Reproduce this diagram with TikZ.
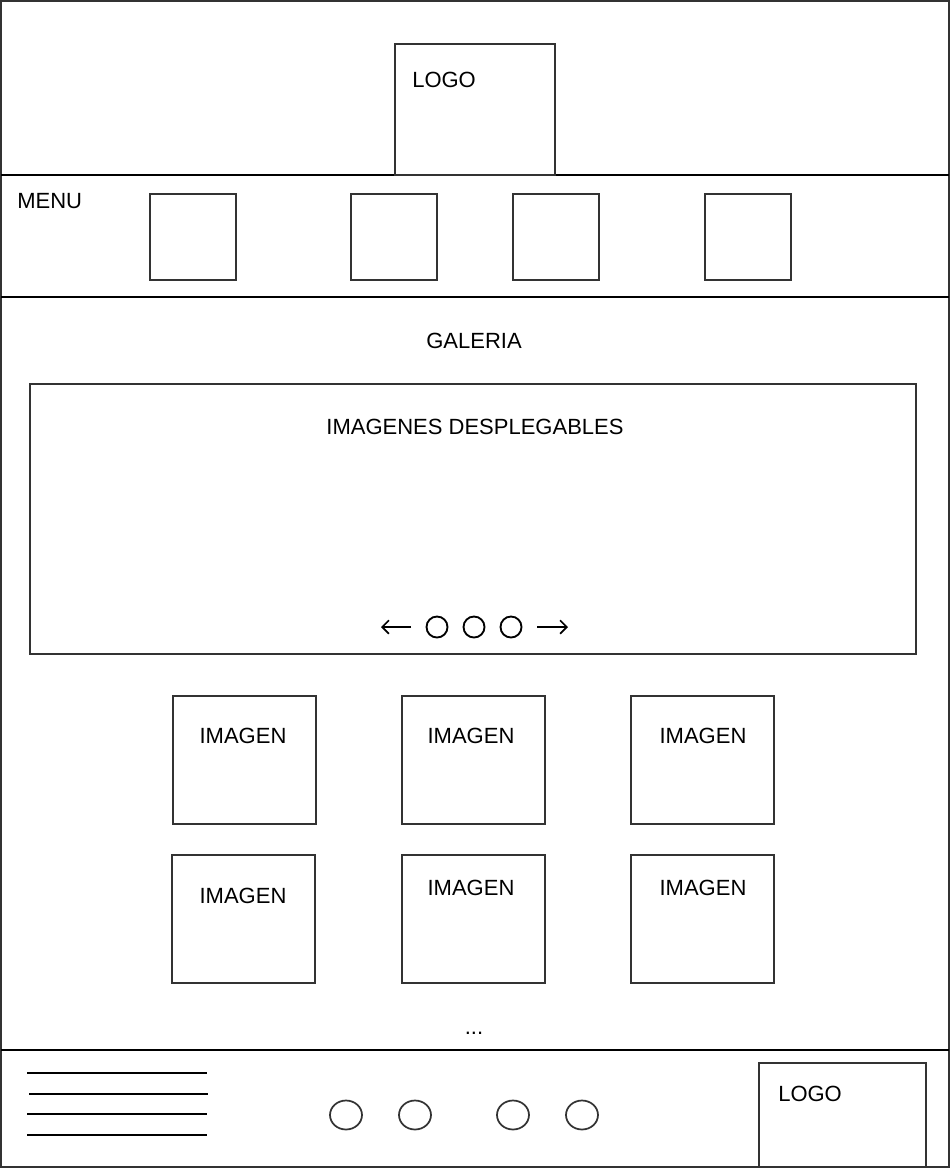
\documentclass[tikz,border=0pt]{standalone}
\usepackage{fontspec}
\setmainfont{Liberation Sans}
\usetikzlibrary{arrows.meta}
\definecolor{frm}{HTML}{333333}
\tikzset{
  box/.style={draw=frm, line width=1.5pt},
  sep/.style={draw=black, line width=1.6pt},
  lbl/.style={inner sep=0pt, font=\fontsize{16.5pt}{19pt}\selectfont},
  dot/.style={draw=black, line width=1.4pt},
  flink/.style={draw=black, line width=1.6pt},
  nav/.style={draw=black, line width=1.3pt, -{Straight Barb[length=5pt,width=10pt]}}
}
\begin{document}
\begin{tikzpicture}[x=0.75pt,y=-0.75pt]
\useasboundingbox (0,0) rectangle (950,1168);
% outer frame
\draw[draw=frm, line width=1.6pt] (1,1) rectangle (949,1167);
% separators
\coordinate (s1l) at (1,175); \coordinate (s1r) at (949,175);
\coordinate (s2l) at (1,297); \coordinate (s2r) at (949,297);
\coordinate (s3l) at (1,1050); \coordinate (s3r) at (949,1050);
\draw[sep] (s1l) -- (s1r);
\draw[sep] (s2l) -- (s2r);
\draw[sep] (s3l) -- (s3r);
% header logo
\draw[box] (395,44) rectangle (555,175);
\node[lbl, anchor=west] (logo1) at (412,80) {LOGO};
% menu
\node[lbl, anchor=west] (menu) at (17,201) {MENU};
\draw[box] (150,194) rectangle (236,280);
\draw[box] (351,194) rectangle (437,280);
\draw[box] (513,194) rectangle (599,280);
\draw[box] (705,194) rectangle (791,280);
% gallery
\node[lbl] (gal) at (474,341) {GALERIA};
\draw[box] (30,384) rectangle (916,654);
\node[lbl] (desp) at (475,427) {IMAGENES DESPLEGABLES};
\coordinate (la) at (411,627); \coordinate (lb) at (381,627);
\coordinate (ra) at (537,627); \coordinate (rb) at (568,627);
\draw[nav] (la) -- (lb);
\draw[nav] (ra) -- (rb);
\draw[dot] (437,627) circle[radius=10.5];
\draw[dot] (474,627) circle[radius=10.5];
\draw[dot] (511,627) circle[radius=10.5];
% images
\draw[box] (173,696) rectangle (316,824);
\draw[box] (402,696) rectangle (545,824);
\draw[box] (631,696) rectangle (774,824);
\node[lbl] (i1) at (243,736) {IMAGEN};
\node[lbl] (i2) at (471,736) {IMAGEN};
\node[lbl] (i3) at (703,736) {IMAGEN};
\draw[box] (172,855) rectangle (315,983);
\draw[box] (402,855) rectangle (545,983);
\draw[box] (631,855) rectangle (774,983);
\node[lbl] (i4) at (243,896) {IMAGEN};
\node[lbl] (i5) at (471,888) {IMAGEN};
\node[lbl] (i6) at (703,888) {IMAGEN};
\node[lbl, anchor=base] (more) at (474,1034) {...};
% footer
\draw[flink] (27,1073) -- (207,1073);
\draw[flink] (29,1094) -- (208,1094);
\draw[flink] (27,1114) -- (207,1114);
\draw[flink] (27,1135) -- (207,1135);
\draw[draw=frm, line width=1.3pt] (346,1115) ellipse[x radius=16, y radius=14.5];
\draw[draw=frm, line width=1.3pt] (415,1115) ellipse[x radius=16, y radius=14.5];
\draw[draw=frm, line width=1.3pt] (513,1115) ellipse[x radius=16, y radius=14.5];
\draw[draw=frm, line width=1.3pt] (582,1115) ellipse[x radius=16, y radius=14.5];
\draw[box] (759,1063) rectangle (926,1167);
\node[lbl, anchor=west] (logo2) at (778,1094) {LOGO};
\end{tikzpicture}
\end{document}
